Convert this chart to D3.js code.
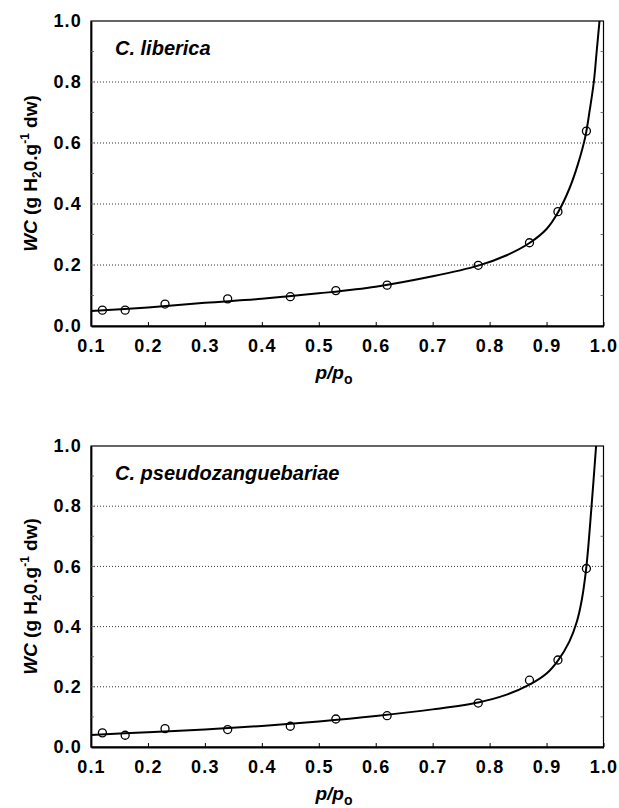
<!DOCTYPE html>
<html>
<head>
<meta charset="utf-8">
<script src="https://cdn.jsdelivr.net/npm/d3@7"></script>
<style>
  body { margin: 0; background: #fff; }
  svg text { font-family: "Liberation Sans", Arial, sans-serif; font-weight: bold; fill: #000; }
</style>
</head>
<body>
<svg id="chart" width="619" height="808"></svg>
<script>
// relative pressure of the measured points (same for both species)
const pressure = [0.12, 0.16, 0.23, 0.34, 0.45, 0.53, 0.62, 0.78, 0.87, 0.92, 0.97];

// measured water content, g H2O / g dw
const libericaWC = [0.052, 0.052, 0.072, 0.089, 0.096, 0.116, 0.134, 0.199, 0.273, 0.375, 0.639];
const pseudoWC = [0.047, 0.039, 0.061, 0.058, 0.069, 0.093, 0.104, 0.146, 0.222, 0.289, 0.593];

// fitted isotherm
const libericaFitP = [0.1, 0.2, 0.3, 0.4, 0.5, 0.6, 0.7, 0.78, 0.83, 0.87, 0.9, 0.92, 0.94, 0.955, 0.968, 0.976, 0.983, 0.988, 0.993];
const libericaFitWC = [0.049, 0.061, 0.076, 0.089, 0.107, 0.129, 0.163, 0.198, 0.232, 0.272, 0.318, 0.372, 0.45, 0.53, 0.62, 0.71, 0.8, 0.9, 1.0];

const pseudoFitP = [0.1, 0.2, 0.3, 0.4, 0.5, 0.6, 0.7, 0.78, 0.83, 0.87, 0.9, 0.92, 0.94, 0.953, 0.962, 0.97, 0.979, 0.987];
const pseudoFitWC = [0.040, 0.049, 0.058, 0.070, 0.085, 0.103, 0.125, 0.148, 0.174, 0.207, 0.244, 0.287, 0.35, 0.415, 0.49, 0.6, 0.8, 1.0];

const xTicks = [0.1, 0.2, 0.3, 0.4, 0.5, 0.6, 0.7, 0.8, 0.9, 1.0];
const yTicks = [0.0, 0.2, 0.4, 0.6, 0.8, 1.0];
const gridTicks = [0.2, 0.4, 0.6, 0.8];
const minorTicks = [0.1, 0.2, 0.3, 0.4, 0.5, 0.6, 0.7, 0.8, 0.9];

const panels = [
  { title: "C. liberica", wc: libericaWC, fitP: libericaFitP, fitWC: libericaFitWC, top: 21, bottom: 326 },
  { title: "C. pseudozanguebariae", wc: pseudoWC, fitP: pseudoFitP, fitWC: pseudoFitWC, top: 446, bottom: 747 }
];

const svg = d3.select("#chart");
const left = 91, right = 603.5;

const x = d3.scaleLinear().domain([0.1, 1.0]).range([left, right]);

panels.forEach((p, i) => {
  const y = d3.scaleLinear().domain([0, 1]).range([p.bottom, p.top]);
  const g = svg.append("g");

  const clipId = "clip" + i;
  svg.append("clipPath").attr("id", clipId)
    .append("rect")
    .attr("x", left).attr("y", p.top)
    .attr("width", right - left).attr("height", p.bottom - p.top);

  // dotted grid
  g.selectAll(".grid").data(gridTicks).enter().append("line")
    .attr("x1", left).attr("x2", right)
    .attr("y1", d => y(d)).attr("y2", d => y(d))
    .attr("stroke", "#333").attr("stroke-width", 1)
    .attr("stroke-dasharray", "1,2");

  // frame
  g.append("rect")
    .attr("x", left).attr("y", p.top)
    .attr("width", right - left).attr("height", p.bottom - p.top)
    .attr("fill", "none").attr("stroke", "#000").attr("stroke-width", 1.2);

  // x axis
  const xAxis = g.append("g")
    .attr("transform", "translate(0," + p.bottom + ")")
    .call(d3.axisBottom(x).tickValues(xTicks).tickFormat(d3.format(".1f")).tickSizeInner(-4).tickSizeOuter(0).tickPadding(13));
  xAxis.select(".domain").attr("stroke-width", 1.8);
  xAxis.selectAll("text").attr("font-size", 18).attr("letter-spacing", "1.2px");

  // y axis
  const yAxis = g.append("g")
    .attr("transform", "translate(" + left + ",0)")
    .call(d3.axisLeft(y).tickValues(yTicks).tickFormat(d3.format(".1f")).tickSizeInner(0).tickSizeOuter(0).tickPadding(9));
  yAxis.select(".domain").attr("stroke-width", 1.8);
  yAxis.selectAll("text").attr("font-size", 18).attr("letter-spacing", "1.2px");

  // faint minor ticks on left and right edges
  g.selectAll(".mt").data(minorTicks).enter().append("line")
    .attr("x1", left).attr("x2", left + 3)
    .attr("y1", d => y(d)).attr("y2", d => y(d))
    .attr("stroke", "#555").attr("stroke-width", 0.8);
  g.selectAll(".mtr").data(minorTicks).enter().append("line")
    .attr("x1", right - 3).attr("x2", right)
    .attr("y1", d => y(d)).attr("y2", d => y(d))
    .attr("stroke", "#555").attr("stroke-width", 0.8);

  // fitted curve
  const fit = p.fitP.map((v, k) => [v, p.fitWC[k]]);
  g.append("path")
    .datum(fit)
    .attr("clip-path", "url(#" + clipId + ")")
    .attr("fill", "none").attr("stroke", "#000").attr("stroke-width", 2)
    .attr("d", d3.line().x(d => x(d[0])).y(d => y(d[1])).curve(d3.curveCatmullRom.alpha(0.5)));

  // measured points
  g.selectAll(".pt").data(pressure).enter().append("circle")
    .attr("cx", d => x(d))
    .attr("cy", (d, k) => y(p.wc[k]))
    .attr("r", 4)
    .attr("fill", "none").attr("stroke", "#000").attr("stroke-width", 1.3);

  // species name
  g.append("text")
    .attr("x", left + 24).attr("y", p.top + 34)
    .attr("font-size", 20).attr("font-style", "italic")
    .text(p.title);

  // y label
  const yl = g.append("text")
    .attr("transform", "translate(37," + ((p.top + p.bottom) / 2) + ") rotate(-90)")
    .attr("text-anchor", "middle")
    .attr("font-size", 19);
  yl.append("tspan").attr("font-style", "italic").text("WC");
  yl.append("tspan").text(" (g H");
  yl.append("tspan").attr("font-size", 12).attr("dy", 4).text("2");
  yl.append("tspan").attr("dy", -4).text("0.g");
  yl.append("tspan").attr("font-size", 12).attr("dy", -8).text("-1");
  yl.append("tspan").attr("dy", 8).text(" dw)");

  // x label
  const xl = g.append("text")
    .attr("x", 334).attr("y", p.bottom + 53)
    .attr("text-anchor", "middle")
    .attr("font-size", 19).attr("font-style", "italic");
  xl.append("tspan").text("p/p");
  xl.append("tspan").attr("font-size", 14).attr("font-style", "normal").attr("dy", 5).text("o");
});
</script>
</body>
</html>
